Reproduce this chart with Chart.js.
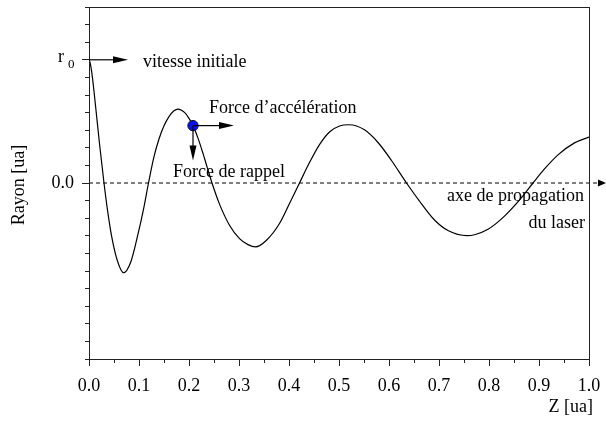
<!DOCTYPE html>
<html>
<head>
<meta charset="utf-8">
<script src="https://cdn.jsdelivr.net/npm/chart.js@4.4.1/dist/chart.umd.min.js"></script>
<style>
  html, body { margin: 0; padding: 0; background: #ffffff; }
  #wrap { width: 606px; height: 421px; }
</style>
</head>
<body>
<div id="wrap"><canvas id="c"></canvas></div>
<script>
// Trajectoire radiale r(z) de l'électron le long de l'axe de propagation du laser

const zValues = [
  0.000, 0.0025, 0.0054, 0.010, 0.0154, 0.0214, 0.030, 0.0368, 0.0454, 0.0568,
  0.069, 0.0834, 0.0968, 0.110, 0.119, 0.130, 0.140, 0.150, 0.160, 0.170,
  0.178, 0.191, 0.200, 0.208, 0.218, 0.228, 0.237, 0.246, 0.261, 0.281,
  0.301, 0.318, 0.333, 0.355, 0.381, 0.401, 0.421, 0.441, 0.461, 0.481,
  0.501, 0.520, 0.551, 0.578, 0.605, 0.635, 0.665, 0.691, 0.718, 0.756,
  0.771, 0.798, 0.831, 0.865, 0.888, 0.911, 0.938, 0.971, 1.000
];
const rayonValues = [
  0.700, 0.680, 0.631, 0.521, 0.375, 0.213, 0.000, -0.150, -0.305, -0.442,
  -0.510, -0.450, -0.305, -0.135, 0.000, 0.150, 0.250, 0.325, 0.377, 0.410,
  0.420, 0.401, 0.367, 0.326, 0.255, 0.168, 0.083, 0.000, -0.120, -0.240,
  -0.316, -0.350, -0.363, -0.325, -0.230, -0.117, 0.000, 0.116, 0.218, 0.290,
  0.324, 0.331, 0.302, 0.230, 0.128, 0.000, -0.118, -0.210, -0.270, -0.299,
  -0.294, -0.263, -0.188, -0.083, 0.000, 0.080, 0.160, 0.228, 0.261
];

// graduations
const zTickValues = [0.0, 0.1, 0.2, 0.3, 0.4, 0.5, 0.6, 0.7, 0.8, 0.9, 1.0];
const zTickLabels = ['0.0', '0.1', '0.2', '0.3', '0.4', '0.5', '0.6', '0.7', '0.8', '0.9', '1.0'];
const zMinorTickValues = [0.05, 0.15, 0.25, 0.35, 0.45, 0.55, 0.65, 0.75, 0.85, 0.95];
const rayonTickValues = [0.0, 0.7];
const rayonTickLabels = ['0.0', ''];
const rayonMinorTickValues = [-1.0, -0.9, -0.8, -0.7, -0.6, -0.5, -0.4, -0.3, -0.2, -0.1,
  0.0, 0.1, 0.2, 0.3, 0.4, 0.5, 0.6, 0.7, 0.8, 0.9, 1.0];

const r0 = 0.7;                       // rayon initial
const particuleZ = [0.208];           // position de l'électron marqué
const particuleR = [0.326];
const axeZ = [0.0, 1.018];            // axe de propagation (tirets)
const axeR = [0.0, 0.0];

// flèches : origine et extrémité en unités du graphique
const fleches = [
  { z0: 0.0,   r0: 0.7,   z1: 0.078, r1: 0.7,   tige: true },   // vitesse initiale
  { z0: 0.208, r0: 0.326, z1: 0.290, r1: 0.326, tige: true },   // force d'accélération
  { z0: 0.208, r0: 0.326, z1: 0.208, r1: 0.128, tige: true },   // force de rappel
  { z0: 1.018, r0: 0.0,   z1: 1.034, r1: 0.0,   tige: false }   // bout de l'axe
];

// annotations : texte, ancrage en unités du graphique
const annotations = [
  { text: 'vitesse initiale',      z: 0.108, r: 0.659,  align: 'left' },
  { text: 'Force d\u2019accélération', z: 0.240, r: 0.398,  align: 'left' },
  { text: 'Force de rappel',       z: 0.168, r: 0.034,  align: 'left' },
  { text: 'axe de propagation',    z: 0.990, r: -0.102, align: 'right' },
  { text: 'du laser',              z: 0.992, r: -0.256, align: 'right' }
];

const FONT = '"Liberation Serif", "Times New Roman", serif';
const SIZE = 18;

const pts = (xs, ys) => xs.map((x, i) => ({ x: x, y: ys[i] }));

const decorPlugin = {
  id: 'decor',
  afterDatasetsDraw(chart) {
    const ctx = chart.ctx;
    const sx = chart.scales.x, sy = chart.scales.y;
    const a = chart.chartArea;
    ctx.save();
    // cadre
    ctx.strokeStyle = '#222';
    ctx.lineWidth = 1;
    ctx.strokeRect(Math.round(a.left) + 0.5, Math.round(a.top) + 0.5,
                   Math.round(a.right - a.left), Math.round(a.bottom - a.top));
    // flèches
    ctx.fillStyle = '#000';
    ctx.strokeStyle = '#000';
    fleches.forEach(f => {
      const x0 = sx.getPixelForValue(f.z0), y0 = sy.getPixelForValue(f.r0);
      const x1 = sx.getPixelForValue(f.z1), y1 = sy.getPixelForValue(f.r1);
      const ang = Math.atan2(y1 - y0, x1 - x0);
      const len = f.tige ? 15 : Math.hypot(x1 - x0, y1 - y0);
      const hw = 3.5;
      if (f.tige) {
        ctx.lineWidth = 1.2;
        ctx.beginPath();
        ctx.moveTo(x0, y0);
        ctx.lineTo(x1 - Math.cos(ang) * (len - 2), y1 - Math.sin(ang) * (len - 2));
        ctx.stroke();
      }
      const bx = x1 - Math.cos(ang) * len, by = y1 - Math.sin(ang) * len;
      ctx.beginPath();
      ctx.moveTo(x1, y1);
      ctx.lineTo(bx - Math.sin(ang) * hw, by + Math.cos(ang) * hw);
      ctx.lineTo(bx + Math.sin(ang) * hw, by - Math.cos(ang) * hw);
      ctx.closePath();
      ctx.fill();
    });
    // textes
    ctx.fillStyle = '#000';
    ctx.textBaseline = 'alphabetic';
    ctx.font = SIZE + 'px ' + FONT;
    annotations.forEach(t => {
      ctx.textAlign = t.align;
      ctx.fillText(t.text, sx.getPixelForValue(t.z), sy.getPixelForValue(t.r));
    });
    // étiquette r0 de l'axe vertical
    const yr0 = sy.getPixelForValue(r0);
    ctx.textAlign = 'left';
    ctx.fillText('r', 58, yr0 + 2);
    ctx.font = '13px ' + FONT;
    ctx.fillText('0', 68, yr0 + 8);
    // titres des axes
    ctx.font = SIZE + 'px ' + FONT;
    ctx.textAlign = 'right';
    ctx.fillText('Z [ua]', 593, 412);
    ctx.save();
    ctx.translate(24, 185);
    ctx.rotate(-Math.PI / 2);
    ctx.textAlign = 'center';
    ctx.fillText('Rayon [ua]', 0, 0);
    ctx.restore();
    ctx.restore();
  }
};

new Chart(document.getElementById('c'), {
  type: 'scatter',
  data: {
    datasets: [
      {
        label: 'axe',
        data: pts(axeZ, axeR),
        showLine: true,
        borderColor: '#000',
        borderWidth: 1,
        borderDash: [4, 3],
        pointRadius: 0,
        clip: false,
        order: 3
      },
      {
        label: 'r(z)',
        data: pts(zValues, rayonValues),
        showLine: true,
        borderColor: '#000',
        borderWidth: 1.2,
        cubicInterpolationMode: 'monotone',
        pointRadius: 0,
        order: 2
      },
      {
        label: 'électron',
        data: pts(particuleZ, particuleR),
        pointRadius: 5.2,
        pointBackgroundColor: '#0a10e8',
        pointBorderColor: '#101030',
        pointBorderWidth: 1,
        order: 0
      }
    ]
  },
  options: {
    responsive: true,
    maintainAspectRatio: false,
    animation: false,
    events: [],
    layout: { padding: { top: 7, right: 17, left: 0, bottom: 0 } },
    plugins: { legend: { display: false }, tooltip: { enabled: false } },
    scales: {
      x: {
        type: 'linear', min: 0, max: 1, position: 'bottom',
        afterFit: s => { s.height = 62; s.paddingLeft = 0; s.paddingRight = 0; },
        afterBuildTicks: s => { s.ticks = zTickValues.map(v => ({ value: v })); },
        ticks: {
          autoSkip: false, maxRotation: 0, padding: 9,
          color: '#000', font: { family: FONT, size: SIZE },
          callback: (v, i) => zTickLabels[i]
        },
        grid: { drawOnChartArea: false, tickLength: 7, tickColor: '#222', tickWidth: 1 },
        border: { display: false }
      },
      xMinor: {
        type: 'linear', min: 0, max: 1, position: { y: -1 },
        afterBuildTicks: s => { s.ticks = zMinorTickValues.map(v => ({ value: v })); },
        ticks: { display: false },
        grid: { drawOnChartArea: false, tickLength: 4, tickColor: '#222', tickWidth: 1 },
        border: { display: false }
      },
      y: {
        type: 'linear', min: -1, max: 1, position: 'left',
        afterFit: s => { s.width = 89; s.paddingTop = 0; s.paddingBottom = 0; },
        afterBuildTicks: s => { s.ticks = rayonTickValues.map(v => ({ value: v })); },
        ticks: {
          autoSkip: false, padding: 8,
          color: '#000', font: { family: FONT, size: SIZE },
          callback: (v, i) => rayonTickLabels[i]
        },
        grid: { drawOnChartArea: false, tickLength: 7, tickColor: '#222', tickWidth: 1 },
        border: { display: false }
      },
      yMinor: {
        type: 'linear', min: -1, max: 1, position: { x: 0 },
        afterBuildTicks: s => { s.ticks = rayonMinorTickValues.map(v => ({ value: v })); },
        ticks: { display: false },
        grid: { drawOnChartArea: false, tickLength: 4, tickColor: '#222', tickWidth: 1 },
        border: { display: false }
      }
    }
  },
  plugins: [decorPlugin]
});
</script>
</body>
</html>
